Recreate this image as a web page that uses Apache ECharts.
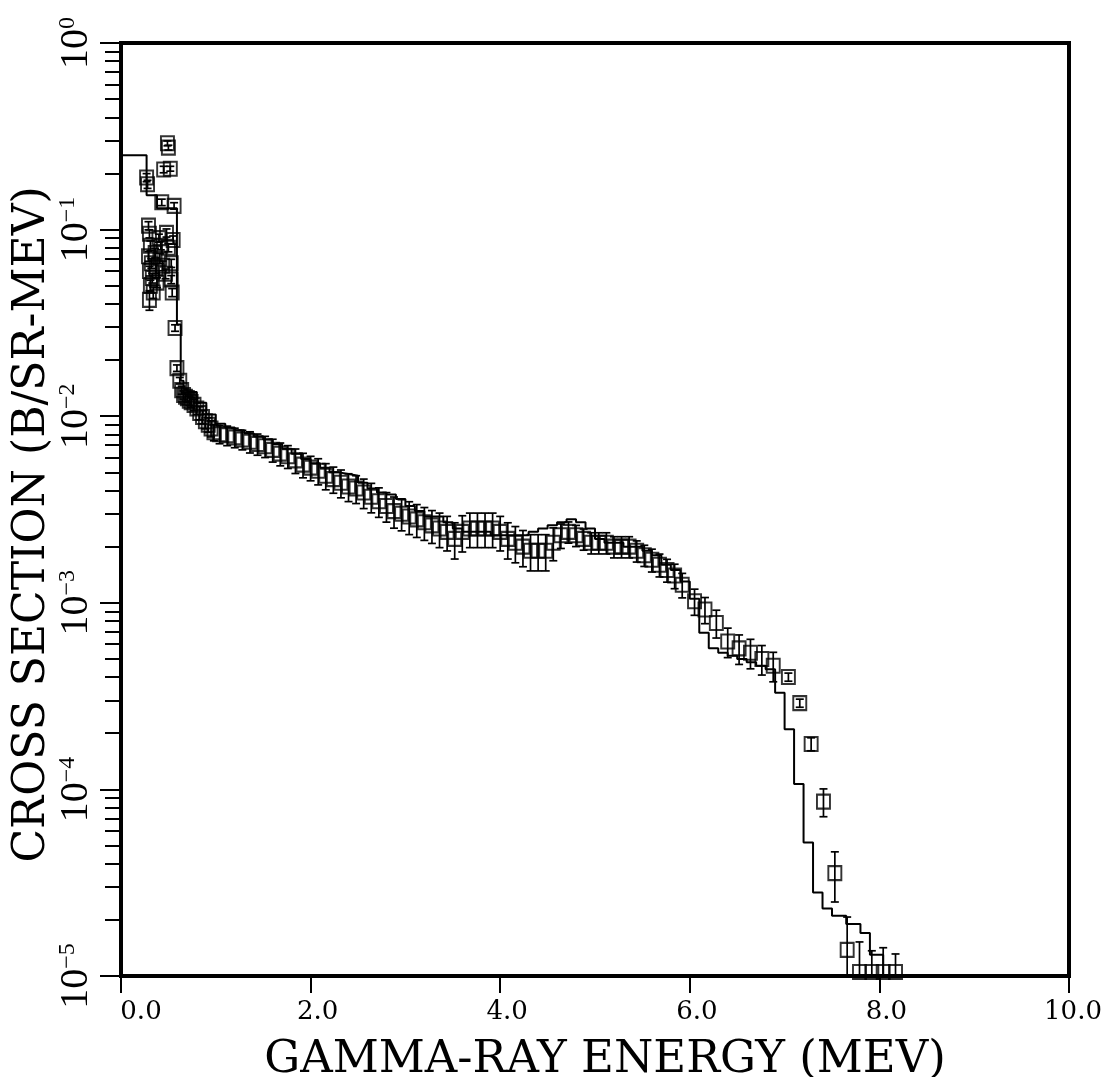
<!DOCTYPE html>
<html><head><meta charset="utf-8">
<script src="https://cdn.jsdelivr.net/npm/echarts@6/dist/echarts.min.js"></script>
<style>html,body{margin:0;padding:0;background:#fff}#c{width:1109px;height:1077px}</style>
</head><body><div id="c"></div>
<script>
// Axis ticks
const xTicks = [0, 2, 4, 6, 8, 10];
const yDecades = [1e-5, 1e-4, 1e-3, 1e-2, 1e-1, 1];

// Experimental points: gamma-ray energy (MeV)
const expEnergy = [
  0.27,0.28,0.29,0.30,0.31,0.29,0.32,0.30,0.33,0.31,0.34,0.30,0.36,0.37,0.38,0.40,0.42,0.41,0.44,0.45,
  0.43,0.49,0.50,0.52,0.47,0.48,0.50,0.53,0.53,0.54,0.56,0.55,0.57,0.59,0.62,
  0.64,0.66,0.68,0.70,0.72,0.74,0.77,0.80,0.83,0.86,0.89,0.92,0.95,0.98,
  1.04,1.12,1.20,1.28,1.36,1.44,1.52,1.60,1.68,1.76,1.84,1.92,2.00,2.08,2.16,2.24,2.32,2.40,2.48,2.56,
  2.64,2.72,2.80,2.88,2.96,3.04,3.12,3.20,3.28,3.36,3.44,3.52,3.60,3.68,3.76,3.84,3.92,4.00,4.08,4.16,
  4.24,4.32,4.40,4.48,4.56,4.64,4.72,4.80,4.88,4.96,5.04,5.12,5.20,5.28,5.36,5.44,5.52,5.60,5.68,5.76,
  5.84,5.92,6.05,6.16,6.28,6.40,6.52,6.64,6.76,6.88,7.04,7.16,7.28,7.41,7.53,7.66,7.79,7.92,8.04,8.17
];
// Experimental cross section (b/sr-MeV)
const expValue = [
  0.19,0.175,0.105,0.095,0.082,0.072,0.066,0.060,0.055,0.050,0.046,0.042,0.075,0.062,0.052,0.090,0.082,0.070,0.064,0.210,
  0.140,0.290,0.275,0.212,0.058,0.096,0.080,0.066,0.054,0.046,0.134,0.088,0.0297,0.0181,0.0155,
  0.0138,0.0130,0.0127,0.0125,0.0121,0.0119,0.0115,0.0110,0.0104,0.0099,0.0094,0.0090,0.0086,0.0082,
  0.0080,0.0079,0.0077,0.0075,0.0073,0.0071,0.0069,0.0066,0.0063,0.0061,0.0058,0.0055,0.0053,0.0051,0.0048,0.0046,0.0044,0.0042,0.0041,0.0039,
  0.0037,0.0035,0.0033,0.0031,0.0030,0.0029,0.0028,0.0027,0.0026,0.0025,0.0024,0.0022,0.0024,0.0025,0.0025,0.0025,0.0025,0.0024,0.0022,0.0021,
  0.0020,0.0019,0.0019,0.0019,0.0021,0.0023,0.0024,0.0023,0.0022,0.0021,0.0021,0.0021,0.0020,0.0020,0.0020,0.0019,0.0018,0.0017,0.0016,0.0015,
  0.0014,0.00125,0.00102,0.00092,0.00078,0.00062,0.00057,0.00054,0.00050,0.00046,0.00040,0.00029,0.000175,0.000086,0.0000356,0.0000138,0.0000105,0.0000105,0.0000105,0.0000105
];
// Relative errors
const expRelErr = [
  0.05,0.05,0.05,0.05,0.06,0.06,0.06,0.06,0.06,0.07,0.07,0.12,0.06,0.06,0.06,0.05,0.05,0.06,0.06,0.04,
  0.04,0.03,0.03,0.03,0.06,0.05,0.05,0.05,0.05,0.05,0.04,0.05,0.04,0.04,0.04,
  0.05,0.05,0.05,0.05,0.06,0.06,0.07,0.07,0.08,0.08,0.09,0.09,0.10,0.10,
  0.11,0.12,0.12,0.12,0.13,0.13,0.13,0.14,0.14,0.14,0.15,0.15,0.15,0.16,0.16,0.16,0.17,0.17,0.17,0.18,
  0.18,0.18,0.18,0.19,0.19,0.20,0.20,0.20,0.20,0.21,0.21,0.22,0.22,0.21,0.21,0.21,0.21,0.21,0.22,0.22,
  0.22,0.22,0.22,0.22,0.20,0.15,0.13,0.13,0.13,0.13,0.13,0.13,0.13,0.13,0.13,0.13,0.13,0.14,0.14,0.14,
  0.15,0.15,0.16,0.16,0.17,0.18,0.18,0.18,0.18,0.18,0.05,0.05,0.08,0.17,0.30,0.50,0.45,0.30,0.35,0.25
];

// Calculation (histogram, left bin edges)
const calcEnergy = [
  0,0.27,0.38,0.59,0.63,0.66,0.7,0.8,0.9,1.0,1.1,1.2,1.3,1.4,1.5,1.6,1.7,1.8,1.9,2.0,
  2.1,2.2,2.3,2.4,2.5,2.6,2.7,2.8,2.9,3.0,3.1,3.2,3.3,3.4,3.5,3.6,3.7,3.8,3.9,4.0,
  4.1,4.2,4.3,4.4,4.5,4.6,4.7,4.8,4.9,5.0,5.1,5.2,5.3,5.4,5.5,5.6,5.7,5.8,5.9,6.0,
  6.1,6.2,6.3,6.4,6.5,6.6,6.7,6.8,6.9,7.0,7.1,7.2,7.3,7.4,7.5,7.65,7.8,7.9,8.04
];
const calcValue = [
  0.25,0.153,0.13,0.031,0.0155,0.014,0.0135,0.0118,0.0102,0.0091,0.0087,0.0084,0.0081,0.0078,0.0075,0.0071,0.0067,0.0063,0.0059,0.0056,
  0.0053,0.0050,0.0049,0.0048,0.0044,0.0041,0.0039,0.0038,0.0036,0.0033,0.0031,0.0029,0.0029,0.0027,0.0025,0.0024,0.0024,0.0024,0.0023,0.0023,
  0.0023,0.0023,0.0024,0.0025,0.0026,0.0027,0.0028,0.0027,0.0025,0.0022,0.0021,0.0021,0.0020,0.0020,0.0019,0.0018,0.0016,0.0015,0.0013,0.00105,
  0.00069,0.00057,0.00054,0.00052,0.00050,0.00048,0.00046,0.00044,0.00033,0.00021,0.000107,0.000052,0.000028,0.000023,0.000021,0.000019,0.000017,0.000013,0.00001
];

const n = Math.min(expEnergy.length, expValue.length, expRelErr.length);
const pts = [], errs = [];
for (let i = 0; i < n; i++) {
  pts.push([expEnergy[i], expValue[i]]);
  errs.push([expEnergy[i], expValue[i] * (1 - expRelErr[i]), expValue[i] * (1 + expRelErr[i])]);
}
const calc = calcEnergy.map((e, i) => [e, calcValue[i]]);

const SERIF = 'DejaVu Serif';
const chart = echarts.init(document.getElementById('c'), null, {renderer: 'canvas'});

function renderErr(params, api) {
  const x = api.value(0), lo = api.value(1), hi = api.value(2);
  const a = api.coord([x, hi]), b = api.coord([x, lo]);
  const c = 4;
  const st = {stroke: '#000', lineWidth: 1.7, fill: null};
  return {type: 'group', children: [
    {type: 'line', shape: {x1: a[0], y1: a[1], x2: b[0], y2: b[1]}, style: st},
    {type: 'line', shape: {x1: a[0] - c, y1: a[1], x2: a[0] + c, y2: a[1]}, style: st},
    {type: 'line', shape: {x1: b[0] - c, y1: b[1], x2: b[0] + c, y2: b[1]}, style: st}
  ]};
}

chart.setOption({
  animation: false,
  backgroundColor: '#fff',
  grid: {left: 121, right: 40, top: 43, bottom: 101, show: true, borderColor: '#000', borderWidth: 4,
         backgroundColor: 'transparent', containLabel: false, outerBoundsMode: 'none'},
  xAxis: {
    type: 'value', min: xTicks[0], max: xTicks[xTicks.length - 1], interval: 2,
    name: 'GAMMA-RAY ENERGY (MEV)', nameLocation: 'middle', nameGap: 62, nameMoveOverlap: false,
    nameTextStyle: {fontFamily: SERIF, fontSize: 45, color: '#000', padding: [0, 0, 0, 20]},
    axisLine: {show: true, lineStyle: {color: '#000', width: 4}},
    axisTick: {show: true, inside: false, length: 17, lineStyle: {color: '#000', width: 2}},
    splitLine: {show: false},
    axisLabel: {
      margin: 23, color: '#000',
      formatter: v => v === 0 ? '{f|0.0}' : (v === 10 ? '{l|10.0}' : '{n|' + v.toFixed(1) + '}'),
      rich: {
        f: {fontFamily: SERIF, fontSize: 26, color: '#000', padding: [0, 0, 0, 40]},
        n: {fontFamily: SERIF, fontSize: 26, color: '#000', padding: [0, 0, 0, 14]},
        l: {fontFamily: SERIF, fontSize: 26, color: '#000', padding: [0, 0, 0, 8]}
      }
    }
  },
  yAxis: {
    type: 'log', logBase: 10, min: yDecades[0], max: yDecades[yDecades.length - 1],
    name: 'CROSS SECTION (B/SR-MEV)', nameLocation: 'middle', nameRotate: 90, nameGap: 66, nameMoveOverlap: false,
    nameTextStyle: {fontFamily: SERIF, fontSize: 44, color: '#000', padding: [0, 30, 0, 0]},
    axisLine: {show: true, lineStyle: {color: '#000', width: 4}},
    axisTick: {show: true, inside: false, length: 21, lineStyle: {color: '#000', width: 2}},
    minorTick: {show: true, splitNumber: 9, length: 16, lineStyle: {color: '#000', width: 2}},
    splitLine: {show: false}, minorSplitLine: {show: false},
    axisLabel: {
      rotate: 90, margin: 25, color: '#000', fontSize: 40, fontFamily: 'Liberation Serif',
      formatter: v => {
        const ex = Math.round(Math.log10(v));
        return '{b|10}{e|' + (ex === 0 ? '0' : '\u2212' + (-ex)) + '}';
      },
      rich: {
        b: {fontFamily: 'Liberation Serif', fontSize: 40, lineHeight: 40, color: '#000', verticalAlign: 'bottom'},
        e: {fontFamily: 'Liberation Serif', fontSize: 24, lineHeight: 24, color: '#000', verticalAlign: 'top', padding: [0, 0, 30, 0]}
      }
    }
  },
  series: [
    {type: 'line', data: calc, step: 'end', showSymbol: false, symbol: 'none', clip: true,
     lineStyle: {color: '#000', width: 2}, z: 3},
    {type: 'custom', data: errs, renderItem: renderErr, clip: true, encode: {x: 0, y: [1, 2]}, z: 4},
    {type: 'scatter', data: pts, symbol: 'rect', symbolSize: [13, 14], clip: true,
     itemStyle: {color: 'rgba(0,0,0,0)', borderColor: '#000', borderWidth: 2}, z: 5}
  ]
});
</script></body></html>
